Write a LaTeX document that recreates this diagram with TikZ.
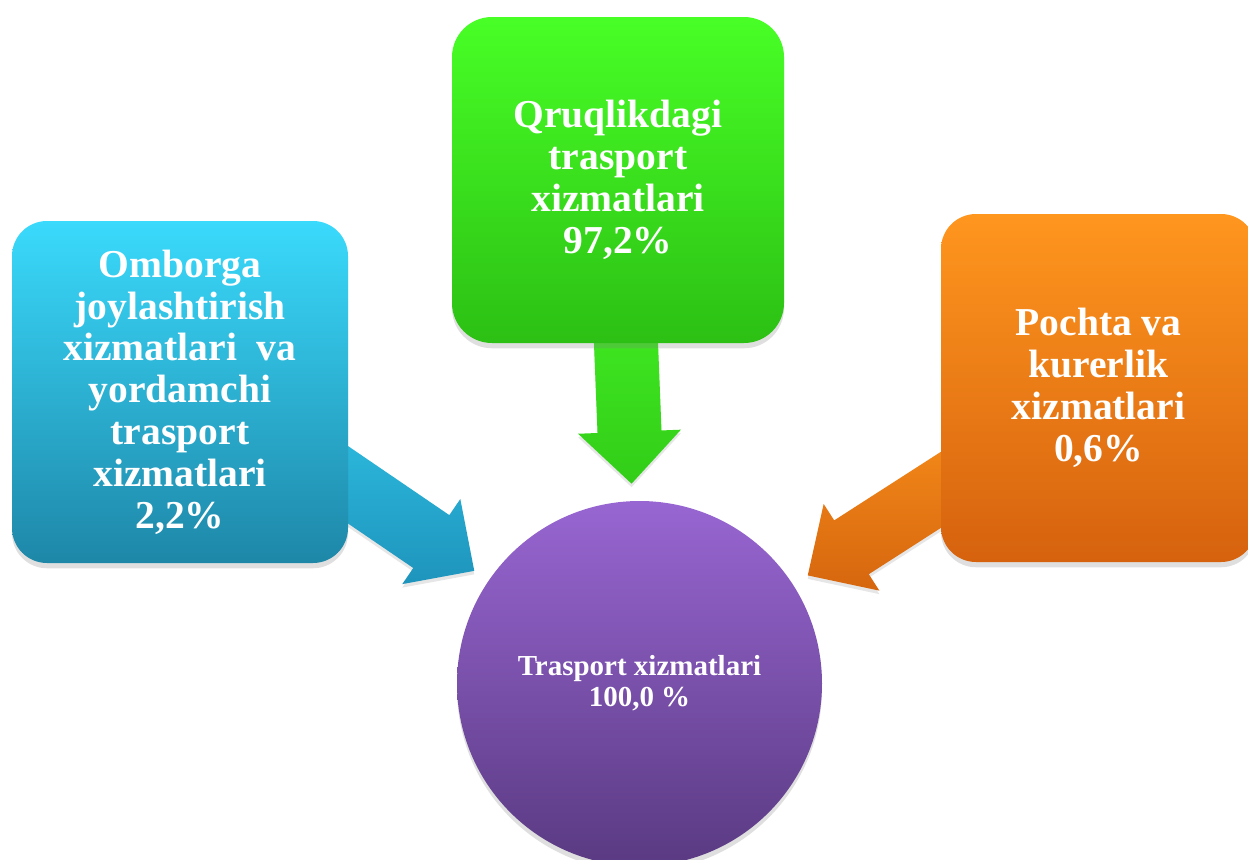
\documentclass[tikz,border=0pt]{standalone}
\usepackage{fontspec}
\setmainfont{Liberation Serif}
\usetikzlibrary{calc}
\usetikzlibrary{shadows}
\usetikzlibrary{backgrounds}

\definecolor{ombTop}{RGB}{58,218,252}
\definecolor{ombBot}{RGB}{30,135,168}
\definecolor{qurTop}{RGB}{72,255,38}
\definecolor{qurBot}{RGB}{44,192,20}
\definecolor{pocTop}{RGB}{255,150,30}
\definecolor{pocBot}{RGB}{214,98,14}
\definecolor{hubTop}{RGB}{152,102,210}
\definecolor{hubBot}{RGB}{90,58,130}
\definecolor{ombArrTop}{RGB}{46,188,224}
\definecolor{ombArrBot}{RGB}{30,148,188}
\definecolor{qurArrTop}{RGB}{68,240,36}
\definecolor{qurArrBot}{RGB}{50,205,24}
\definecolor{pocArrTop}{RGB}{246,140,26}
\definecolor{pocArrBot}{RGB}{214,102,14}

\begin{document}
\begin{tikzpicture}[line cap=round,
    box/.style={rectangle, rounded corners=0.7cm, inner sep=0pt, align=center, text=white,
        font=\fontsize{22.5}{23.8}\selectfont\bfseries,
        drop shadow={shadow xshift=0pt, shadow yshift=-3pt, opacity=0.25}},
    hubnode/.style={circle, minimum size=7.3cm, inner sep=0pt, align=center, text=white,
        font=\fontsize{16.5}{17.8}\selectfont\bfseries,
        drop shadow={shadow xshift=0pt, shadow yshift=-3pt, opacity=0.25}},
    flow/.style={drop shadow={shadow xshift=0pt, shadow yshift=-2pt, opacity=0.2}}]

    \useasboundingbox (0,0) rectangle (24.96,-17.2);
    \clip (0,0) rectangle (24.96,-17.2);

    \node [hubnode, top color=hubTop, bottom color=hubBot] (hub) at (12.79,-13.67) {Trasport xizmatlari\\100,0 \%};

    \node [box, minimum width=6.72cm, minimum height=6.84cm, top color=ombTop, bottom color=ombBot] (omb) at (3.6,-7.84)
        {Omborga\\joylashtirish\\xizmatlari~ va\\yordamchi\\trasport\\xizmatlari\\2,2\%};
    \node [box, rounded corners=0.8cm, minimum width=6.64cm, minimum height=6.52cm, top color=qurTop, bottom color=qurBot] (qur) at (12.36,-3.6)
        {Qruqlikdagi\\trasport\\xizmatlari\\97,2\%};
    \node [box, minimum width=6.3cm, minimum height=6.96cm, top color=pocTop, bottom color=pocBot] (poc) at (21.97,-7.76)
        {Pochta va\\kurerlik\\xizmatlari\\0,6\%};

    % where the arrows leave the boxes
    \coordinate (omb-edge) at ($(omb.east)+(0,-1.86)$);
    \coordinate (qur-edge) at ($(qur.south)+(0.16,0)$);
    \coordinate (poc-edge) at ($(poc.west)+(0,-2.04)$);

    \begin{pgfonlayer}{background}
    \foreach \from/\ctop/\cbot in {omb/ombArrTop/ombArrBot, qur/qurArrTop/qurArrBot, poc/pocArrTop/pocArrBot} {
        \coordinate (s) at ($(\from-edge)!-1.5cm!(hub)$);
        \coordinate (t) at ($(hub)!4cm!(\from-edge)$);
        \coordinate (b) at ($(t)!1.04cm!(s)$);
        \path [flow, top color=\ctop, bottom color=\cbot]
            ($(s)!0.64cm!90:(t)$) -- ($(b)!0.64cm!90:(t)$) -- ($(b)!1.03cm!90:(t)$) -- (t)
            -- ($(b)!1.03cm!-90:(t)$) -- ($(b)!0.64cm!-90:(t)$) -- ($(s)!0.64cm!-90:(t)$) -- cycle;
    }
    \end{pgfonlayer}

\end{tikzpicture}
\end{document}
